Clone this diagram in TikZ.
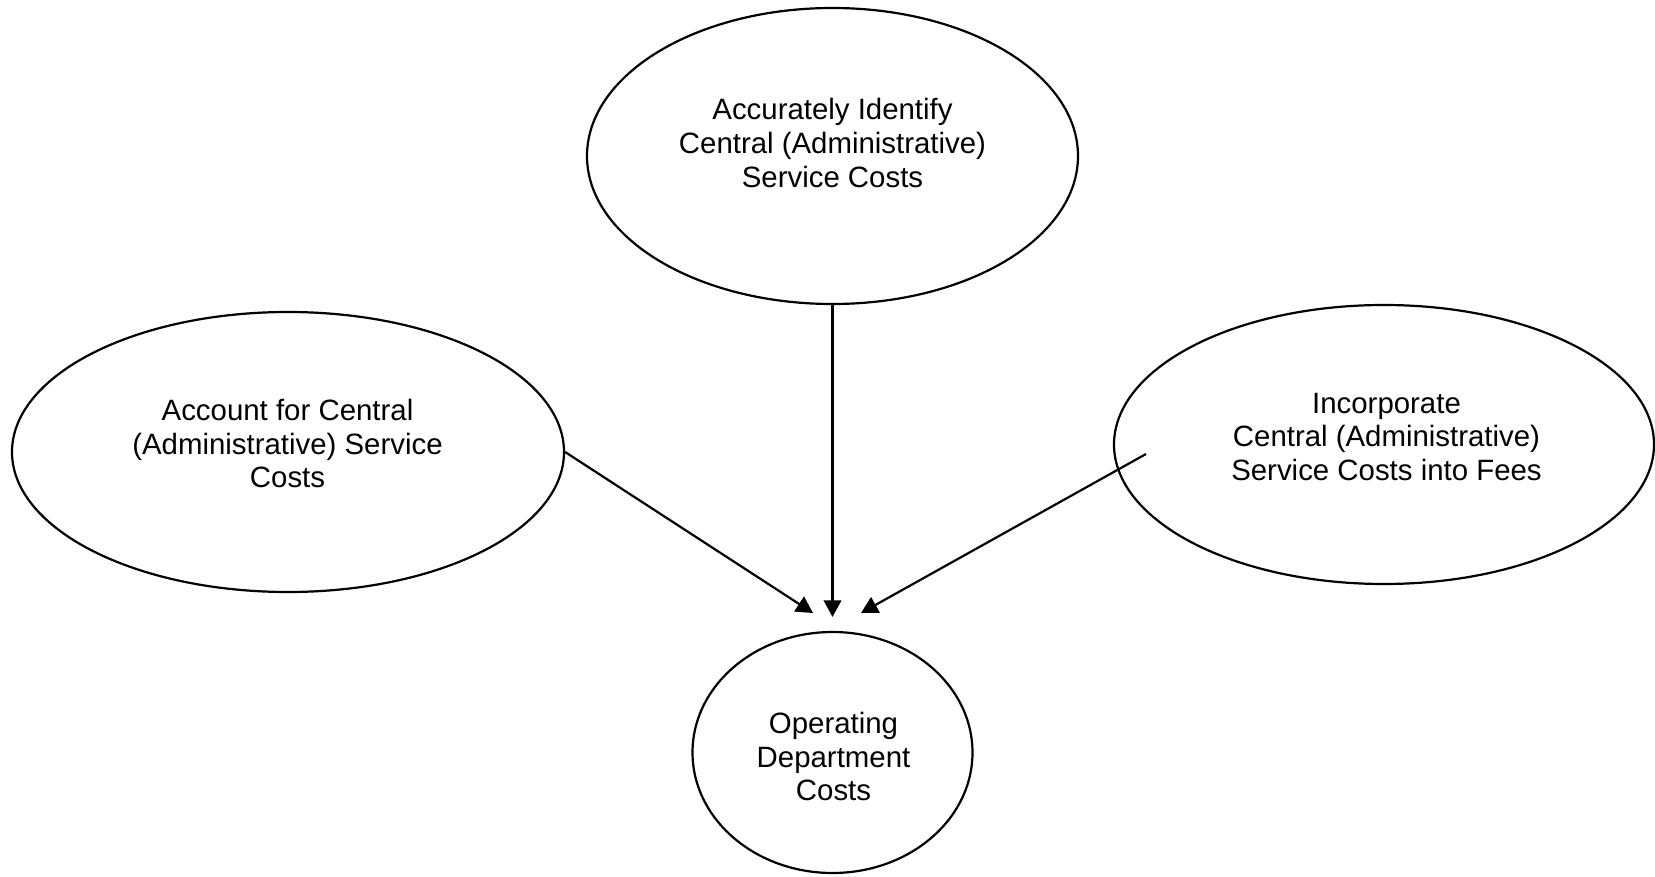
\documentclass[tikz,border=0pt]{standalone}
\usepackage{fontspec}
\setmainfont{Liberation Sans}
\usetikzlibrary{arrows.meta,shapes.geometric}
\begin{document}
\begin{tikzpicture}[x=0.5pt,y=-0.5pt,
  bubble/.style={draw=black, line width=1.1pt, ellipse, inner sep=0pt},
  caption/.style={align=center, font=\fontsize{14.7}{16.85}\selectfont, inner sep=0pt},
  link/.style={draw=black, line width=1.1pt, -{Triangle[length=8.3pt,width=8.8pt]}}]
\useasboundingbox (0,0) rectangle (1655,877);

% the four cost ellipses (sizes in pt: one picture unit is 0.5pt)
\node[bubble, minimum width=245.5pt, minimum height=148pt] (ident) at (832.5,156) {};
\node[bubble, minimum width=276pt, minimum height=140pt] (acct) at (288,452) {};
\node[bubble, minimum width=270pt, minimum height=139.5pt] (inc) at (1384,444.5) {};
\node[bubble, minimum width=140pt, minimum height=120.5pt] (ops) at (832.5,752.5) {};

% their captions
\node[caption] (identtext) at (832.5,143) {Accurately Identify\\Central (Administrative)\\Service Costs};
\node[caption] (accttext) at (287.5,443.5) {Account for Central\\(Administrative) Service\\Costs};
\node[caption] (inctext) at (1386.5,437) {Incorporate\\Central (Administrative)\\Service Costs into Fees};
\node[caption] (opstext) at (833.5,756.7) {Operating\\Department\\Costs};

% free ends of the slanted arrows
\coordinate (lefttip) at (813,613);
\coordinate (righttip) at (861,613);
\coordinate (incfoot) at (1146,454);

% arrows into the operating department costs
\draw[link] (acct.east) -- (lefttip);
\draw[link, shorten >=7pt] (ident) -- (ops);
\draw[link] (incfoot) -- (righttip);
\end{tikzpicture}
\end{document}
